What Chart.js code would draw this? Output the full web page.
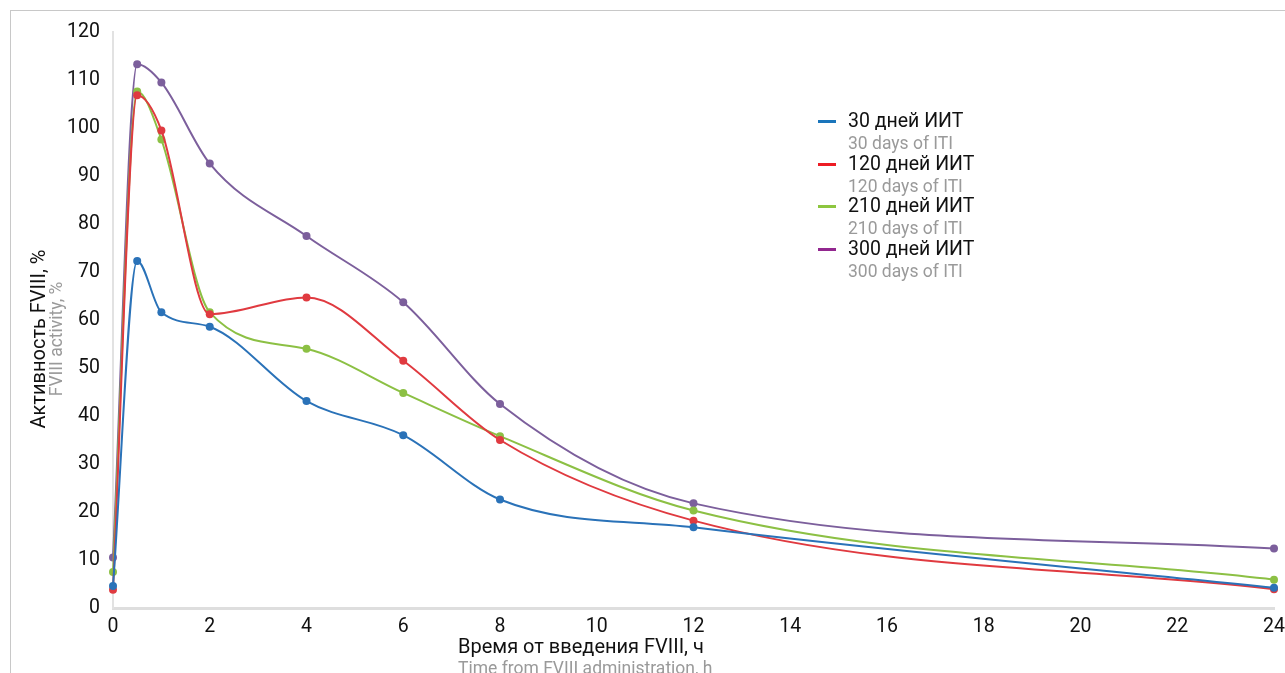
<!DOCTYPE html>
<html>
<head>
<meta charset="utf-8">
<script src="https://cdn.jsdelivr.net/npm/chart.js@4"></script>
<style>
  body { margin: 0; background: #fff; font-family: Roboto, "Noto Sans", sans-serif; }
  #wrap { position: relative; width: 1285px; height: 673px; overflow: hidden; }
  #frame { position: absolute; left: 10px; top: 10px; width: 1300px; height: 700px;
           border-top: 1px solid #c8c8c8; border-left: 1px solid #c8c8c8; }
  .ytitle { position: absolute; left: 47px; top: 339px; transform: translate(-50%, -50%) rotate(-90deg);
            white-space: nowrap; text-align: center; }
  .ytitle .ru { font-size: 20px; color: #111; line-height: 18px; }
  .ytitle .en { font-size: 17.5px; color: #9a9a9a; line-height: 18px; }
  .xtitle { position: absolute; left: 458px; top: 635px; white-space: nowrap; }
  .xtitle .ru { font-size: 20px; color: #111; line-height: 22px; }
  .xtitle .en { font-size: 17.5px; color: #9a9a9a; line-height: 22px; }
  .legend { position: absolute; left: 818px; top: 109px; }
  .legend .row { position: relative; height: 42.7px; }
  .legend .mark { position: absolute; left: 0; top: 11px; width: 18px; height: 3px; }
  .legend .ru { position: absolute; left: 30px; top: 0; font-size: 19.5px; color: #111; white-space: nowrap; line-height: 24px; }
  .legend .en { position: absolute; left: 30px; top: 24px; font-size: 17.5px; color: #9a9a9a; white-space: nowrap; line-height: 20px; }
</style>
</head>
<body>
<div id="wrap">
  <div id="frame"></div>
  <canvas id="chart" width="1285" height="673"></canvas>
  <div class="ytitle"><div class="ru">Активность FVIII, %</div><div class="en">FVIII activity, %</div></div>
  <div class="xtitle"><div class="ru">Время от введения FVIII, ч</div><div class="en">Time from FVIII administration, h</div></div>
  <div class="legend" id="legend"></div>
</div>
<script>
// hours after FVIII administration
const hours = [0, 0.5, 1, 2, 4, 6, 8, 12, 24];

// FVIII activity, %
const days30  = [4.6, 72.3, 61.6, 58.6, 43.1, 36.0, 22.6, 16.8, 4.2];
const days120 = [3.8, 106.8, 99.5, 61.2, 64.7, 51.5, 35.0, 18.2, 3.9];
const days210 = [7.5, 107.6, 97.6, 61.6, 54.0, 44.8, 35.8, 20.3, 5.9];
const days300 = [10.5, 113.3, 109.5, 92.6, 77.5, 63.7, 42.5, 21.8, 12.4];

const seriesRu = ['30 дней ИИТ', '120 дней ИИТ', '210 дней ИИТ', '300 дней ИИТ'];
const seriesEn = ['30 days of ITI', '120 days of ITI', '210 days of ITI', '300 days of ITI'];
const lineColors = ['#2a72b8', '#e03a40', '#8cc044', '#7c5f9c'];
const legendColors = ['#1a75bb', '#ed1c24', '#8dc63f', '#92278f'];

const allSeries = [days30, days120, days210, days300];

const datasets = allSeries.map((vals, i) => ({
    label: seriesRu[i],
    data: hours.map((h, j) => ({ x: h, y: vals[j] })),
    borderColor: lineColors[i],
    backgroundColor: lineColors[i],
    borderWidth: 2,
    pointRadius: 4,
    pointBorderWidth: 0,
    cubicInterpolationMode: 'monotone',
    clip: false,
    fill: false
}));

// legend as html, two lines per item
const legendEl = document.getElementById('legend');
seriesRu.forEach((name, i) => {
    const row = document.createElement('div');
    row.className = 'row';
    row.innerHTML = '<div class="mark" style="background:' + legendColors[i] + '"></div>' +
        '<div class="ru">' + name + '</div><div class="en">' + seriesEn[i] + '</div>';
    legendEl.appendChild(row);
});

const tickFont = { family: 'Roboto', size: 19.5 };

new Chart(document.getElementById('chart').getContext('2d'), {
    type: 'line',
    data: { datasets: datasets },
    options: {
        responsive: false,
        animation: false,
        layout: { padding: { left: 0, top: 32, right: 11, bottom: 0 } },
        plugins: { legend: { display: false }, tooltip: { enabled: false } },
        scales: {
            x: {
                type: 'linear',
                min: 0, max: 24,
                ticks: { stepSize: 2, color: '#111', font: tickFont, padding: 7, maxRotation: 0 },
                grid: { display: false, drawTicks: false },
                border: { color: '#dedede', width: 3 },
                afterFit: s => { s.height = 65; s.paddingLeft = 0; s.paddingRight = 0; }
            },
            y: {
                min: 0, max: 120,
                ticks: { stepSize: 10, color: '#111', font: tickFont, padding: 13 },
                grid: { display: false, drawTicks: false },
                border: { color: '#e2e2e2', width: 2 },
                afterFit: s => { s.width = 113; s.paddingTop = 0; s.paddingBottom = 0; }
            }
        }
    }
});
</script>
</body>
</html>
